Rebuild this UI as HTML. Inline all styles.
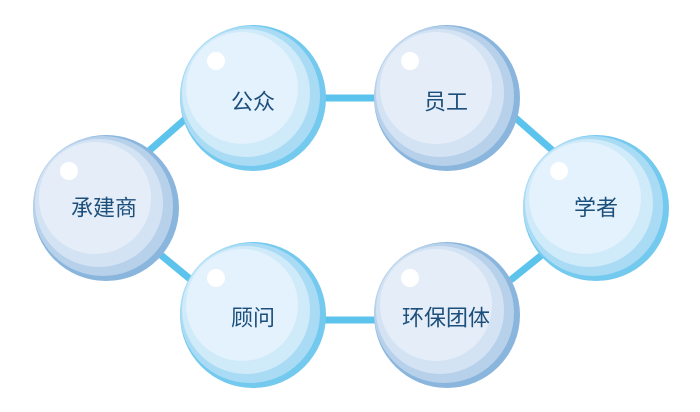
<!DOCTYPE html>
<html><head><meta charset="utf-8"><style>
html,body{margin:0;padding:0;background:#fff;width:700px;height:412px;overflow:hidden}
text{font-family:"Liberation Sans","Noto Sans CJK SC",sans-serif;font-size:22px;fill:#1d4f7c;text-anchor:middle;dominant-baseline:central}
</style></head><body>
<svg width="700" height="412" viewBox="0 0 700 412" xmlns="http://www.w3.org/2000/svg">
<defs>
<g id="cy">
  <circle r="73" fill="#74c9ef"/>
  <circle cx="-3" cy="-2" r="70" fill="#a9dbf5"/>
  <circle cx="-7" cy="-5" r="64" fill="#cfeaf9"/>
  <circle cx="-11" cy="-10" r="56" fill="#e3f2fc"/>
  <circle cx="-37" cy="-37" r="9" fill="#fff"/>
</g>
<g id="gr">
  <circle r="73" fill="#8ab6de"/>
  <circle cx="-3" cy="-2" r="70" fill="#b8d1eb"/>
  <circle cx="-7" cy="-5" r="64" fill="#d4e3f4"/>
  <circle cx="-11" cy="-10" r="56" fill="#e5eef8"/>
  <circle cx="-37" cy="-37" r="9" fill="#fff"/>
</g>
</defs>
<g stroke="#5bc3ec" stroke-width="7" stroke-linecap="round">
  <line x1="316" y1="98" x2="383" y2="98"/>
  <line x1="316" y1="320" x2="383" y2="320"/>
  <line x1="191" y1="114" x2="150" y2="150"/>
  <line x1="511" y1="114" x2="552" y2="150"/>
  <line x1="150" y1="246" x2="190" y2="279"/>
  <line x1="553" y1="246" x2="512" y2="279"/>
</g>
<use href="#cy" x="253" y="98"/>
<use href="#gr" x="447" y="98"/>
<use href="#gr" x="106" y="208"/>
<use href="#cy" x="596" y="208"/>
<use href="#cy" x="253" y="315"/>
<use href="#gr" x="447" y="315"/>
<text x="253" y="102">公众</text>
<text x="446" y="102">员工</text>
<text x="104" y="208">承建商</text>
<text x="596" y="208">学者</text>
<text x="253" y="318">顾问</text>
<text x="446" y="318">环保团体</text>
</svg>
</body></html>
